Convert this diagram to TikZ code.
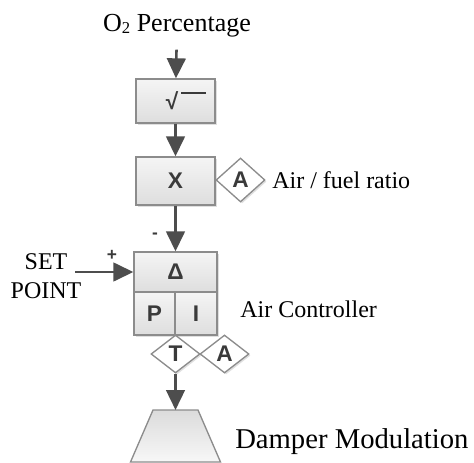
\documentclass[tikz,border=0pt]{standalone}
\usepackage{fontspec}
\setmainfont{Liberation Serif}
\setsansfont{Liberation Sans}
\usepackage{xcolor}
\usepackage{tikz}
\usetikzlibrary{arrows.meta,shapes.geometric,shadows}

\definecolor{linegray}{HTML}{8C8C8C}
\definecolor{arrowgray}{HTML}{4D4D4D}
\definecolor{labelgray}{HTML}{3A3A3A}

\begin{document}
\begin{tikzpicture}[x=0.75pt, y=-0.75pt,
  blk/.style={draw=linegray, line width=1pt, top color=black!4, bottom color=black!13,
    inner sep=0pt, font=\sffamily\bfseries\fontsize{17}{17}\selectfont, text=labelgray,
    drop shadow={shadow xshift=1.2pt, shadow yshift=-1.2pt, opacity=0.25}},
  dia/.style={diamond, draw=linegray, line width=1pt, fill=white, inner sep=0pt,
    font=\sffamily\bfseries\fontsize{17}{17}\selectfont, text=labelgray,
    drop shadow={shadow xshift=1.2pt, shadow yshift=-1.2pt, opacity=0.25}},
  trap/.style={draw=linegray, line width=1pt, top color=black!14, bottom color=black!3},
  flow/.style={draw=arrowgray, line width=1.9pt, -{Triangle[length=15pt,width=14pt]}},
  txt/.style={inner sep=0pt, font=\fontsize{18}{21.75}\selectfont},
  sign/.style={inner sep=0pt, font=\sffamily\bfseries\fontsize{13}{13}\selectfont, text=labelgray}]

\useasboundingbox (0,0) rectangle (474,463);

\node[txt, font=\fontsize{19.5}{22}\selectfont] (0) at (177,26)
  {O\raisebox{-1pt}{\fontsize{12.5}{12.5}\selectfont 2} Percentage};

\node[blk, minimum width=59.25pt, minimum height=33pt] (1) at (175.5,101)
  {\hspace{16pt}√\hspace{2pt}\raisebox{12pt}[0pt][0pt]{\rule{19pt}{1.3pt}}};
\node[blk, minimum width=59.25pt, minimum height=36pt] (2) at (175.5,181) {X};
\node[dia, minimum width=36.75pt, minimum height=33pt] (3) at (240.5,180) {A};

\node[blk, minimum width=62.25pt, minimum height=30pt] (4) at (175.5,272) {Δ};
\node[blk, minimum width=30.75pt, minimum height=32.25pt] (5) at (154.5,313.5) {P};
\node[blk, minimum width=31.5pt, minimum height=32.25pt] (6) at (196,313.5) {I};
\node[dia, minimum width=36.75pt, minimum height=28.5pt] (7) at (175.5,354) {T};
\node[dia, minimum width=36.75pt, minimum height=28.5pt] (8) at (224.5,354) {A};

% damper
\path[trap] (153,410) -- (198,410) -- (220.5,462) -- (130.5,462) -- cycle;
\coordinate (9) at (175.5,410);

\node[txt, align=center] (10) at (46,276.5) {SET\\POINT};
\coordinate (11) at (75,272);
\node[sign] (12) at (112,255) {+};
\node[sign] (13) at (155,236) {-};

\node[txt, anchor=west] (14) at (272,180.5) {Air / fuel ratio};
\node[txt, anchor=west] (15) at (240,309.5) {Air Controller};
\node[txt, anchor=west, font=\fontsize{21.5}{24}\selectfont] (16) at (235,441.5) {Damper Modulation};

\path[flow, shorten <=9pt] (0) -- (1);
\path[flow] (1) -- (2);
\path[flow] (2) -- (4);
\path[flow] (11) -- (4);
\path[flow] (7) -- (9);
\end{tikzpicture}
\end{document}
